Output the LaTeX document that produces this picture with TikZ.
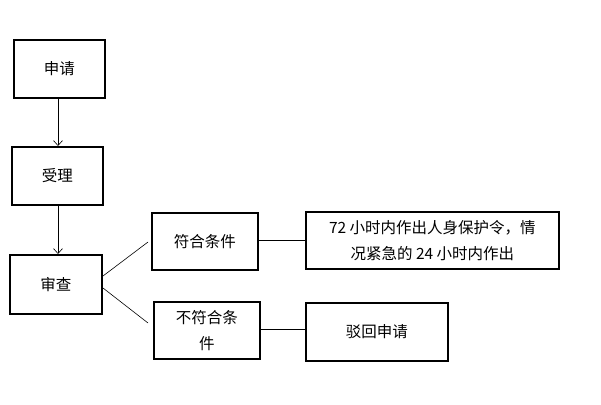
\documentclass[tikz,border=0pt]{standalone}
\usepackage{fontspec}
\setmainfont{Noto Sans CJK SC}
\usetikzlibrary{arrows.meta}
\begin{document}
\begin{tikzpicture}[x=1pt,y=-1pt,
  box/.style={draw,line width=1.8pt,rectangle,anchor=north west,inner sep=0pt,align=center,font=\fontsize{15.5}{26}\selectfont},
  conn/.style={line width=0.6pt},
  arr/.style={line width=0.6pt,-{Straight Barb[length=5pt,width=9pt]}}]
\useasboundingbox (0,0) rectangle (601,404);
\node[box,minimum width=91pt,minimum height=58pt] (a) at (13,39) {申请};
\node[box,minimum width=91pt,minimum height=58pt] (b) at (11,146) {受理};
\node[box,minimum width=92pt,minimum height=59pt] (c) at (9,254) {审查};
\node[box,minimum width=106pt,minimum height=57pt] (d) at (151,212) {符合条件};
\node[box,minimum width=106pt,minimum height=57pt] (e) at (153,301) {不符合条\\件};
\node[box,minimum width=253pt,minimum height=57pt] (f) at (305,211) {72 小时内作出人身保护令，情\\况紧急的 24 小时内作出};
\node[box,minimum width=142pt,minimum height=58pt] (g) at (305,302) {驳回申请};
\coordinate (c1) at (103,276);
\coordinate (c2) at (103,288);
\coordinate (d1) at (148,242);
\coordinate (e1) at (148,323);
\draw[arr] (a.south -| 58,0) -- (b.north -| 58,0);
\draw[arr] (b.south -| 58,0) -- (c.north -| 58,0);
\draw[conn] (c1) -- (d1);
\draw[conn] (c2) -- (e1);
\draw[conn] (d.east |- 0,240) -- (f.west |- 0,240);
\draw[conn] (e.east |- 0,329) -- (g.west |- 0,329);
\end{tikzpicture}
\end{document}
